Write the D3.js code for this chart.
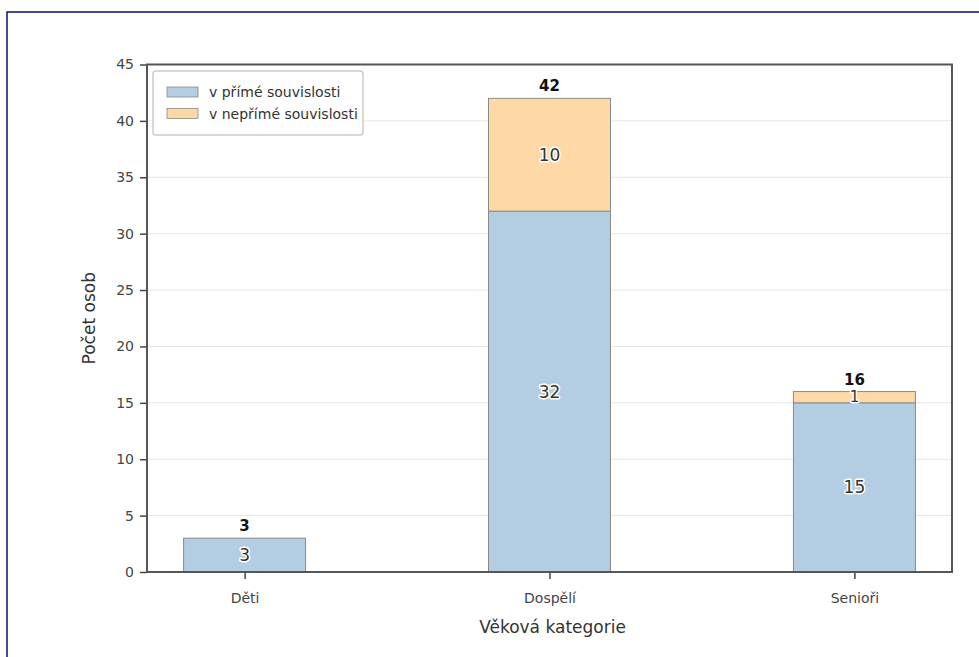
<!DOCTYPE html>
<html><head><meta charset="utf-8">
<script src="https://cdn.jsdelivr.net/npm/d3@7"></script>
<style>
body{margin:0;background:#fff;}
svg{display:block;font-family:"DejaVu Sans",sans-serif;}
</style></head>
<body>
<svg id="chart" width="979" height="657"></svg>
<script>
const categories = ["Děti", "Dospělí", "Senioři"];
const seriesNames = ["v přímé souvislosti", "v nepřímé souvislosti"];
const direct = [3, 32, 15];
const indirect = [0, 10, 1];
const yTicks = [0, 5, 10, 15, 20, 25, 30, 35, 40, 45];
const colors = ["#b3cde3", "#fed9a6"];

const svg = d3.select("#chart");
const W = 979, H = 657;
const m = {left:147, right:952, top:64.5, bottom:572};

// outer frame
svg.append("rect").attr("x",7).attr("y",12).attr("width",W).attr("height",H)
  .attr("fill","none").attr("stroke","#1a1a80").attr("stroke-width",1.6);

const x = d3.scalePoint().domain(categories).range([m.left, m.right]).padding(0.32);
const y = d3.scaleLinear().domain([0,45]).range([m.bottom, m.top]);
const bw = x.step()*0.4;

// grid
svg.append("g").selectAll("line").data(yTicks.filter(t=>t>0 && t<45)).join("line")
  .attr("x1",m.left).attr("x2",m.right).attr("y1",d=>y(d)).attr("y2",d=>y(d))
  .attr("stroke","#e6e6e6").attr("stroke-width",1);

const data = categories.map((c,i)=>({cat:c, vals:[direct[i], indirect[i]]}));
const stack = d3.stack().keys([0,1]).value((d,k)=>d.vals[k])(data);

const gBars = svg.append("g");
stack.forEach((layer,k)=>{
  gBars.selectAll(null).data(layer.filter(d=>d[1]-d[0]>0)).join("rect")
    .attr("x",d=>x(d.data.cat)-bw/2).attr("width",bw)
    .attr("y",d=>y(d[1])).attr("height",d=>y(d[0])-y(d[1]))
    .attr("fill",colors[k]).attr("stroke","#8a8a8a").attr("stroke-width",1);
});

// segment labels (white halo via paint-order)
stack.forEach((layer,k)=>{
  svg.append("g").selectAll(null).data(layer.filter(d=>d[1]-d[0]>0)).join("text")
    .attr("x",d=>x(d.data.cat)).attr("y",d=>y((d[0]+d[1])/2))
    .attr("text-anchor","middle").attr("dominant-baseline","central")
    .attr("font-size",d=>(d[1]-d[0])<2?15:17).attr("fill","#333")
    .attr("stroke","#fff").attr("stroke-width",3).attr("stroke-linejoin","round")
    .attr("paint-order","stroke")
    .text(d=>d[1]-d[0]);
});

// totals
svg.append("g").selectAll("text").data(data).join("text")
  .attr("x",d=>x(d.cat)).attr("y",d=>y(d.vals[0]+d.vals[1])-7)
  .attr("text-anchor","middle").attr("font-size",15).attr("font-weight","bold")
  .attr("fill","#111").text(d=>d.vals[0]+d.vals[1]);

// axes
const yAxis = svg.append("g").attr("transform",`translate(${m.left},0)`)
  .call(d3.axisLeft(y).tickValues(yTicks).tickSize(7).tickPadding(6));
const xAxis = svg.append("g").attr("transform",`translate(0,${m.bottom})`)
  .call(d3.axisBottom(x).tickSize(7).tickPadding(14));
[yAxis,xAxis].forEach(a=>{
  a.select(".domain").remove();
  a.selectAll(".tick line").attr("stroke","#444").attr("stroke-width",1.5);
  a.selectAll(".tick text").attr("fill","#444").attr("font-size",14)
    .attr("font-family","DejaVu Sans, sans-serif");
});
// frame
svg.append("rect").attr("x",m.left).attr("y",m.top)
  .attr("width",m.right-m.left).attr("height",m.bottom-m.top)
  .attr("fill","none").attr("stroke","#555").attr("stroke-width",2);

// axis titles
svg.append("text").attr("x",(m.left+m.right)/2 + 3).attr("y",633)
  .attr("text-anchor","middle").attr("font-size",17).attr("fill","#333")
  .text("Věková kategorie");
svg.append("text").attr("transform",`translate(95,${(m.top+m.bottom)/2}) rotate(-90)`)
  .attr("text-anchor","middle").attr("font-size",17).attr("fill","#333")
  .text("Počet osob");

// legend
const lg = svg.append("g");
lg.append("rect").attr("x",153).attr("y",71).attr("width",210).attr("height",64)
  .attr("rx",3).attr("fill","#fff").attr("stroke","#cccccc").attr("stroke-width",1.5);
seriesNames.forEach((s,i)=>{
  lg.append("rect").attr("x",167).attr("y",87+i*21.5).attr("width",31).attr("height",10)
    .attr("fill",colors[i]).attr("stroke","#8a8a8a").attr("stroke-width",0.8);
  lg.append("text").attr("x",209).attr("y",92+i*21.5).attr("dominant-baseline","central")
    .attr("font-size",14).attr("fill","#333").text(s);
});
</script>
</body></html>
